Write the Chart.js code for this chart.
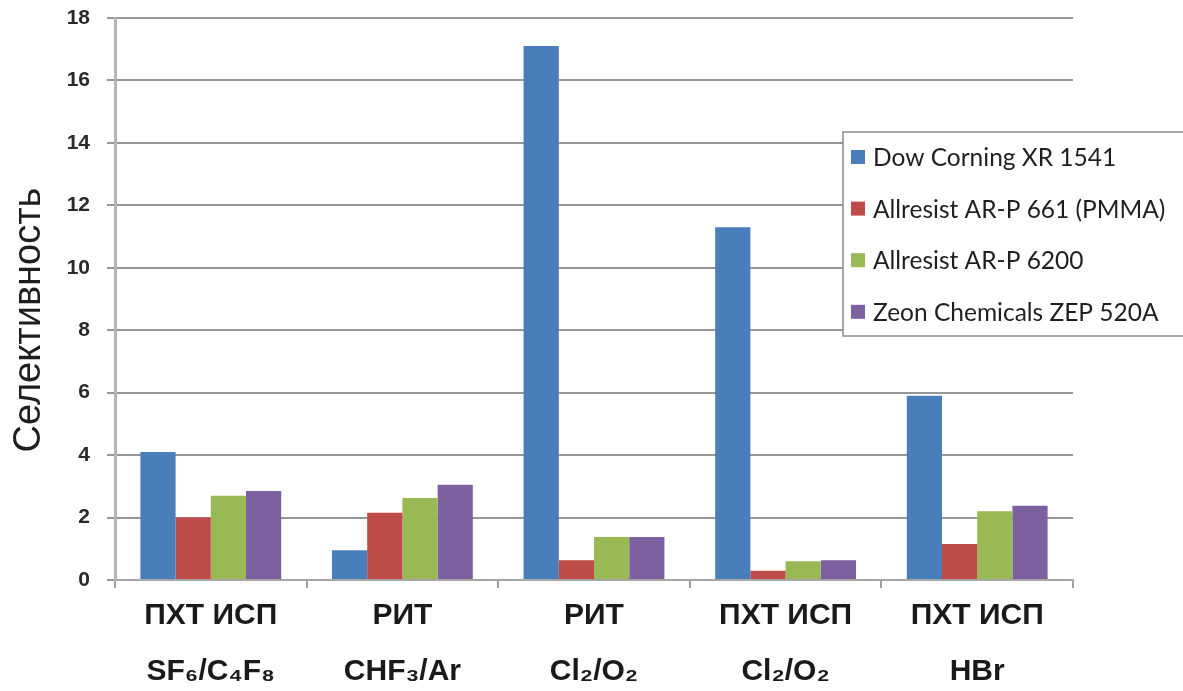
<!DOCTYPE html>
<html>
<head>
<meta charset="utf-8">
<script src="https://cdn.jsdelivr.net/npm/chart.js@4/dist/chart.umd.min.js"></script>
<style>
  html, body { margin: 0; padding: 0; background: #ffffff; }
  #wrap { width: 1183px; height: 691px; position: relative; }
</style>
</head>
<body>
<div id="wrap"><canvas id="chart" width="1183" height="691"></canvas></div>
<script>
// Process / gas chemistry for each group of bars
const categories = [
  ['ПХТ ИСП', 'SF₆/C₄F₈'],
  ['РИТ', 'CHF₃/Ar'],
  ['РИТ', 'Cl₂/O₂'],
  ['ПХТ ИСП', 'Cl₂/O₂'],
  ['ПХТ ИСП', 'HBr']
];

// Resist names (series)
const seriesNames = [
  'Dow Corning XR 1541',
  'Allresist AR-P 661 (PMMA)',
  'Allresist AR-P 6200',
  'Zeon Chemicals ZEP 520A'
];

// Selectivity values per resist
const dowCorningXR1541 = [4.1, 0.95, 17.1, 11.3, 5.9];
const allresist661 = [2.0, 2.15, 0.63, 0.3, 1.15];
const allresist6200 = [2.7, 2.63, 1.38, 0.6, 2.2];
const zeonZEP520A = [2.85, 3.05, 1.38, 0.63, 2.38];

// Y axis ticks
const yTicks = [0, 2, 4, 6, 8, 10, 12, 14, 16, 18];
const yTitle = 'Селективность';

const seriesColors = ['#4a7ebb', '#be4b48', '#98b954', '#7d60a0'];
const seriesValues = [dowCorningXR1541, allresist661, allresist6200, zeonZEP520A];

const ARIAL = 'Arial, "Liberation Sans", sans-serif';

// Vertical axis title, centred beside the value axis
const yTitlePlugin = {
  id: 'yTitle',
  afterDraw(chart) {
    const ctx = chart.ctx;
    ctx.save();
    ctx.translate(30, 320);
    ctx.rotate(-Math.PI / 2);
    ctx.font = '38px ' + ARIAL;
    ctx.fillStyle = '#1e1e1e';
    ctx.textAlign = 'center';
    ctx.textBaseline = 'middle';
    ctx.fillText(yTitle, 0, 0);
    ctx.restore();
  }
};

// Boxed legend sitting over the right part of the plot
const boxLegendPlugin = {
  id: 'boxLegend',
  afterDraw(chart) {
    const ctx = chart.ctx;
    const x = 843, y = 132, w = 345, h = 204;
    ctx.save();
    ctx.fillStyle = '#ffffff';
    ctx.fillRect(x, y, w, h);
    ctx.strokeStyle = '#8c8c8c';
    ctx.lineWidth = 1.5;
    ctx.strokeRect(x, y, w, h);
    ctx.font = '24.5px Lato, "Open Sans", sans-serif';
    ctx.textBaseline = 'middle';
    ctx.textAlign = 'left';
    chart.data.datasets.forEach((ds, i) => {
      const cy = 157 + i * 51.6;
      ctx.fillStyle = ds.backgroundColor;
      ctx.fillRect(851, cy - 7, 14, 14);
      ctx.fillStyle = '#1f1f1f';
      ctx.fillText(ds.label, 873, cy + 1);
    });
    ctx.restore();
  }
};

new Chart(document.getElementById('chart'), {
  type: 'bar',
  data: {
    labels: categories,
    datasets: seriesNames.map((name, i) => ({
      label: name,
      data: seriesValues[i],
      backgroundColor: seriesColors[i],
      borderWidth: 0,
      categoryPercentage: 0.735,
      barPercentage: 1.0
    }))
  },
  options: {
    responsive: false,
    animation: false,
    devicePixelRatio: 1,
    layout: { padding: { top: 18, right: 110, left: 0, bottom: 0 } },
    plugins: {
      legend: { display: false },
      tooltip: { enabled: false }
    },
    scales: {
      x: {
        grid: {
          display: true,
          drawOnChartArea: false,
          color: '#a0a0a0',
          lineWidth: 2,
          tickLength: 8,
          offset: true
        },
        border: { color: '#a6a6a6', width: 2 },
        ticks: {
          color: '#1a1a1a',
          font: { family: ARIAL, size: 30, weight: 'bold', lineHeight: 1.85 },
          padding: 0,
          maxRotation: 0,
          autoSkip: false
        },
        afterFit(scale) {
          scale.height = 111;
          scale.paddingLeft = 0;
          scale.paddingRight = 0;
        }
      },
      y: {
        min: 0,
        max: 18,
        afterBuildTicks(scale) { scale.ticks = yTicks.map(v => ({ value: v })); },
        grid: {
          color: '#969696',
          lineWidth: 2,
          tickLength: 8
        },
        border: { color: '#b4b4b4', width: 3 },
        ticks: {
          color: '#2a2a2a',
          font: { family: ARIAL, size: 21, weight: 'bold' },
          padding: 17
        },
        afterFit(scale) {
          scale.width = 115;
          scale.paddingTop = 0;
          scale.paddingBottom = 0;
        }
      }
    }
  },
  plugins: [yTitlePlugin, boxLegendPlugin]
});
</script>
</body>
</html>
